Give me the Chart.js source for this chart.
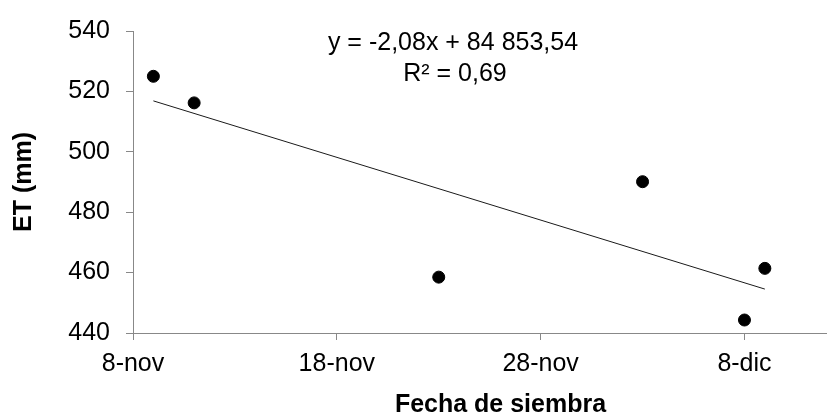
<!DOCTYPE html>
<html>
<head>
<meta charset="utf-8">
<script src="https://cdn.jsdelivr.net/npm/chart.js@4"></script>
<style>
  html, body { margin: 0; padding: 0; background: #ffffff; }
  #wrap { width: 833px; height: 419px; }
</style>
</head>
<body>
<div id="wrap"><canvas id="chart" width="833" height="419"></canvas></div>
<script>
// Sowing dates and measured evapotranspiration
const sowingDates = ['2011-11-09', '2011-11-11', '2011-11-23', '2011-12-03', '2011-12-08', '2011-12-09'];
const etValues = [525.0, 516.2, 458.5, 490.1, 444.3, 461.4];

// Date axis: days counted from the first tick
const axisStart = '2011-11-08';
const axisEnd = '2011-12-12';
const xTickDays = [0, 10, 20, 30];
const xTickLabels = ['8-nov', '18-nov', '28-nov', '8-dic'];

// Value axis
const yMin = 440, yMax = 540, yStep = 20;

// Trend line label
const equationText = 'y = -2,08x + 84 853,54';
const r2Text = 'R² = 0,69';

const axisTitleX = 'Fecha de siembra';
const axisTitleY = 'ET (mm)';

const DAY = 86400000;
const toDays = s => (Date.parse(s + 'T00:00:00Z') - Date.parse(axisStart + 'T00:00:00Z')) / DAY;

const xs = sowingDates.map(toDays);
const points = xs.map((x, i) => ({ x, y: etValues[i] }));

// Least-squares linear trend over the observed dates
const n = xs.length;
const mx = xs.reduce((a, b) => a + b, 0) / n;
const my = etValues.reduce((a, b) => a + b, 0) / n;
let sxy = 0, sxx = 0;
xs.forEach((x, i) => { sxy += (x - mx) * (etValues[i] - my); sxx += (x - mx) * (x - mx); });
const slope = sxy / sxx;
const intercept = my - slope * mx;
const xFirst = Math.min(...xs), xLast = Math.max(...xs);
const trend = [
  { x: xFirst, y: intercept + slope * xFirst },
  { x: xLast, y: intercept + slope * xLast }
];

const FONT = '"Liberation Sans", Arial, sans-serif';
const AXIS_GREY = '#888888';

// Axis titles and regression label
const annotations = {
  id: 'annotations',
  afterDraw(chart) {
    const { ctx, chartArea } = chart;
    ctx.save();
    ctx.fillStyle = '#000000';
    ctx.textAlign = 'center';
    ctx.textBaseline = 'alphabetic';

    ctx.font = 'bold 25px ' + FONT;
    ctx.fillText(axisTitleX, (chartArea.left + chartArea.right) / 2 + 21, 412);

    ctx.save();
    ctx.translate(31, (chartArea.top + chartArea.bottom) / 2);
    ctx.rotate(-Math.PI / 2);
    ctx.fillText(axisTitleY, 0, 0);
    ctx.restore();

    ctx.font = '25px ' + FONT;
    ctx.fillText(equationText, 453, 50);
    ctx.fillText(r2Text, 455, 81);
    ctx.restore();
  }
};

new Chart(document.getElementById('chart'), {
  type: 'scatter',
  data: {
    datasets: [
      {
        label: 'ET',
        data: points,
        backgroundColor: '#000000',
        borderColor: '#000000',
        pointRadius: 6,
        pointHoverRadius: 6,
        showLine: false,
        order: 1
      },
      {
        label: 'Tendencia',
        data: trend,
        type: 'line',
        borderColor: '#1a1a1a',
        borderWidth: 1,
        pointRadius: 0,
        fill: false,
        order: 2
      }
    ]
  },
  options: {
    responsive: false,
    devicePixelRatio: 1,
    animation: false,
    layout: { padding: { left: 0, right: 6, top: 30, bottom: 0 } },
    plugins: {
      legend: { display: false },
      tooltip: { enabled: false },
      title: { display: false }
    },
    scales: {
      x: {
        type: 'linear',
        min: 0,
        max: toDays(axisEnd),
        afterBuildTicks: scale => { scale.ticks = xTickDays.map(v => ({ value: v })); },
        afterFit: scale => { scale.height = 86; },
        ticks: {
          color: '#000000',
          font: { family: FONT, size: 25 },
          padding: 9,
          maxRotation: 0,
          autoSkip: false,
          callback: v => {
            const i = xTickDays.indexOf(v);
            return i >= 0 ? xTickLabels[i] : '';
          }
        },
        grid: {
          drawOnChartArea: false,
          drawTicks: true,
          tickLength: 7,
          color: AXIS_GREY
        },
        border: { display: true, color: AXIS_GREY, width: 1 }
      },
      y: {
        min: yMin,
        max: yMax,
        afterFit: scale => { scale.width = 133; },
        ticks: {
          stepSize: yStep,
          color: '#000000',
          font: { family: FONT, size: 25 },
          padding: 16
        },
        grid: {
          drawOnChartArea: false,
          drawTicks: true,
          tickLength: 7,
          color: AXIS_GREY
        },
        border: { display: true, color: AXIS_GREY, width: 1 }
      }
    }
  },
  plugins: [annotations]
});
</script>
</body>
</html>
